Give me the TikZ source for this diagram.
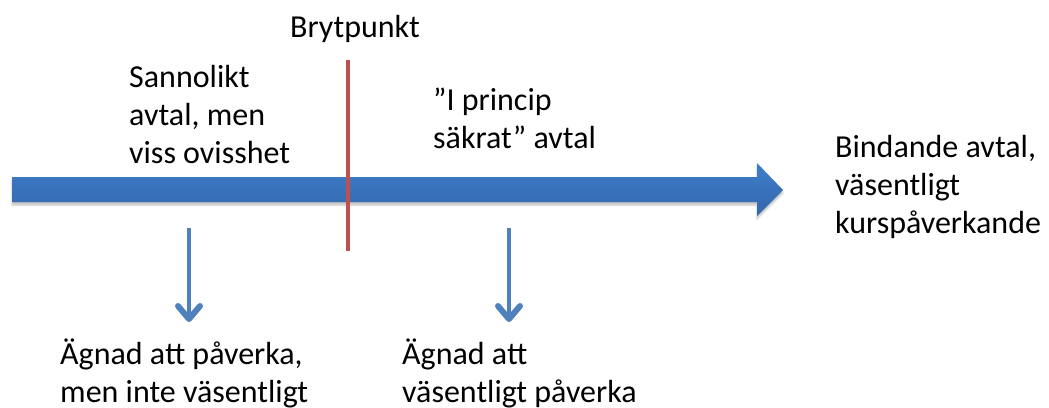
\documentclass[tikz,border=0pt]{standalone}
\usepackage{fontspec}
\setmainfont{Carlito}
\usetikzlibrary{arrows.meta,shadows.blur}
\definecolor{arrowtop}{HTML}{3F7ECA}
\definecolor{arrowbot}{HTML}{3366AD}
\definecolor{pointer}{HTML}{4F81BD}
\definecolor{breakred}{HTML}{C0504D}
\tikzset{
  % multi-line labels are placed by the baseline of their last line
  txt/.style={inner sep=0pt, anchor=base west, align=left,
              font=\fontsize{32}{38}\selectfont, text=black},
  bigarrow/.style={top color=arrowtop, bottom color=arrowbot, draw=none,
                   blur shadow={shadow xshift=0pt, shadow yshift=-3pt,
                                shadow opacity=25, shadow blur steps=6}},
  breakline/.style={draw=breakred, line width=4.5pt},
  pointerarrow/.style={draw=pointer, line width=4.5pt,
                       -{Straight Barb[length=13pt,width=22pt,line width=6pt 0,
                                       round=false]}},
}
\begin{document}
\begin{tikzpicture}[x=1pt,y=-1pt]
\useasboundingbox (0,0) rectangle (1049,407);

% main time line arrow
\path[bigarrow] (12,177) -- (757,177) -- (757,163) -- (783,190)
  -- (757,216) -- (757,202) -- (12,202) -- cycle;

% break point marker
\coordinate (rtop) at (348,60);
\coordinate (rbot) at (348,251);
\draw[breakline] (rtop) -- (rbot);

% consequences
\coordinate (d1s) at (189,228);
\coordinate (d1e) at (189,322);
\coordinate (d2s) at (509,228);
\coordinate (d2e) at (509,322);
\draw[pointerarrow] (d1s) -- (d1e);
\draw[pointerarrow] (d2s) -- (d2e);

% labels
\node[txt] (bryt) at (290,37) {Brytpunkt};
\node[txt] (sann) at (129,163) {Sannolikt\\avtal, men\\viss ovisshet};
\node[txt] (princip) at (433,148) {”I princip\\säkrat” avtal};
\node[txt] (bind) at (835,233) {Bindande avtal,\\väsentligt\\kurspåverkande};
\node[txt] (agn1) at (60,402) {Ägnad att påverka,\\men inte väsentligt};
\node[txt] (agn2) at (402,402) {Ägnad att\\väsentligt påverka};
\end{tikzpicture}
\end{document}
